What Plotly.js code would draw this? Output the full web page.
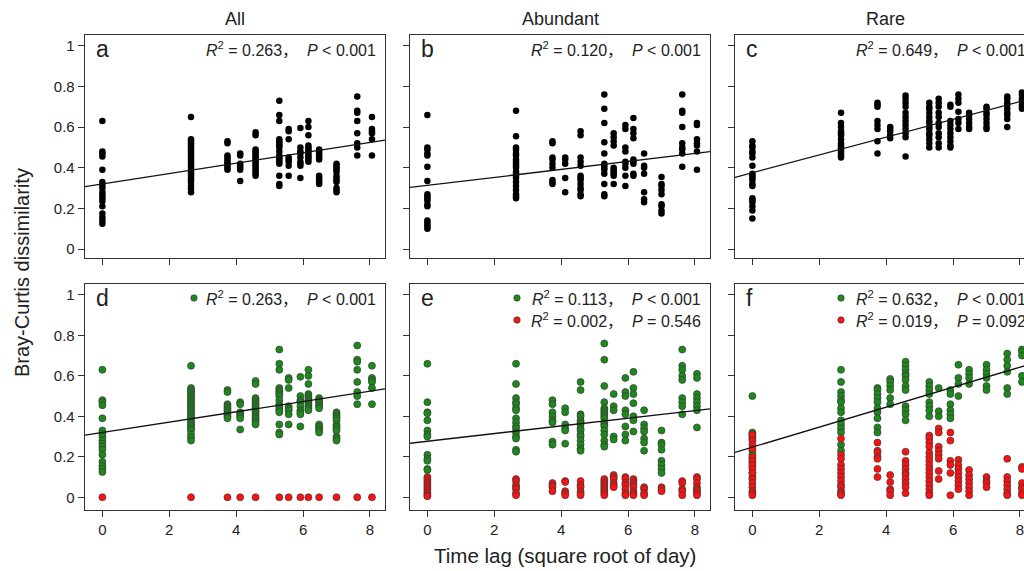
<!DOCTYPE html>
<html>
<head>
<meta charset="utf-8">
<script src="https://cdn.plot.ly/plotly-3.0.1.min.js"></script>
<style>
html, body { margin: 0; padding: 0; overflow: hidden; background: #fff; }
#chart { width: 1040px; height: 571px; }
</style>
</head>
<body>
<div id="chart"></div>
<script>
// ---- DATA ----
const lags = [0, 2.65, 3.74, 4.12, 4.58, 5.29, 5.57, 5.92, 6.16, 6.48, 7.0, 7.62, 8.06];
const xTicks = [0, 2, 4, 6, 8];
const yTicks = [0, 0.2, 0.4, 0.6, 0.8, 1];
const yTickText = ["0", "0.2", "0.4", "0.6", "0.8", "1"];
const panelTitles = ["All", "Abundant", "Rare"];
const panelLetters = ["a", "b", "c", "d", "e", "f"];

// Panel a (All) – also the green series of panel d
const allCols = [
  [0.63, 0.48, 0.47, 0.455, 0.39, 0.33, 0.315, 0.30, 0.28, 0.265, 0.25, 0.235, 0.21, 0.175, 0.155, 0.14, 0.125],
  [0.65, 0.54, 0.53, 0.52, 0.51, 0.50, 0.49, 0.48, 0.47, 0.46, 0.45, 0.44, 0.43, 0.42, 0.41, 0.40, 0.39, 0.38, 0.37, 0.36, 0.35, 0.34, 0.33, 0.31, 0.295, 0.28],
  [0.53, 0.52, 0.46, 0.45, 0.44, 0.43, 0.42, 0.41, 0.40, 0.39],
  [0.47, 0.46, 0.42, 0.41, 0.40, 0.39, 0.335],
  [0.575, 0.56, 0.49, 0.48, 0.47, 0.46, 0.45, 0.44, 0.43, 0.42, 0.41, 0.40, 0.39, 0.38, 0.37, 0.36],
  [0.73, 0.66, 0.63, 0.54, 0.53, 0.52, 0.51, 0.50, 0.48, 0.46, 0.45, 0.44, 0.43, 0.42, 0.36, 0.32, 0.31],
  [0.59, 0.58, 0.54, 0.45, 0.44, 0.43, 0.41, 0.36],
  [0.595, 0.50, 0.48, 0.47, 0.45, 0.43, 0.42, 0.41, 0.35],
  [0.63, 0.60, 0.56, 0.51, 0.50, 0.49, 0.48, 0.47, 0.46, 0.45, 0.44, 0.43],
  [0.49, 0.48, 0.47, 0.46, 0.45, 0.44, 0.36, 0.35, 0.34, 0.33, 0.32],
  [0.42, 0.41, 0.40, 0.39, 0.38, 0.36, 0.35, 0.34, 0.33, 0.30, 0.29, 0.28],
  [0.75, 0.68, 0.67, 0.63, 0.57, 0.52, 0.50, 0.46],
  [0.65, 0.59, 0.58, 0.57, 0.54, 0.46]
];
// Panel b (Abundant)
const abundantCols = [
  [0.66, 0.50, 0.49, 0.47, 0.46, 0.405, 0.335, 0.27, 0.26, 0.25, 0.24, 0.22, 0.21, 0.14, 0.13, 0.12, 0.11, 0.10],
  [0.68, 0.555, 0.50, 0.49, 0.47, 0.46, 0.44, 0.43, 0.42, 0.41, 0.40, 0.38, 0.37, 0.36, 0.35, 0.33, 0.31, 0.29, 0.27, 0.26, 0.25],
  [0.53, 0.52, 0.45, 0.44, 0.42, 0.40, 0.34, 0.33, 0.32],
  [0.45, 0.44, 0.42, 0.35, 0.28],
  [0.58, 0.56, 0.45, 0.43, 0.41, 0.36, 0.35, 0.34, 0.32, 0.30, 0.29, 0.27, 0.26],
  [0.76, 0.69, 0.62, 0.525, 0.47, 0.42, 0.41, 0.40, 0.39, 0.37, 0.32, 0.27, 0.26],
  [0.57, 0.55, 0.53, 0.51, 0.40, 0.39, 0.38, 0.37, 0.36, 0.32],
  [0.61, 0.59, 0.50, 0.48, 0.43, 0.42, 0.40, 0.36, 0.31],
  [0.645, 0.59, 0.57, 0.545, 0.44, 0.43, 0.42, 0.37, 0.36],
  [0.47, 0.41, 0.40, 0.37, 0.28, 0.245, 0.23],
  [0.355, 0.32, 0.31, 0.29, 0.27, 0.22, 0.21, 0.19, 0.175],
  [0.76, 0.68, 0.67, 0.60, 0.52, 0.50, 0.49, 0.47, 0.405],
  [0.62, 0.61, 0.54, 0.52, 0.51, 0.48, 0.39]
];
// Panel c (Rare)
const rareCols = [
  [0.53, 0.51, 0.50, 0.48, 0.47, 0.45, 0.41, 0.37, 0.36, 0.35, 0.34, 0.32, 0.31, 0.25, 0.24, 0.23, 0.21, 0.19, 0.15],
  [0.67, 0.62, 0.60, 0.58, 0.57, 0.56, 0.54, 0.52, 0.51, 0.50, 0.49, 0.48, 0.47, 0.46, 0.45],
  [0.72, 0.71, 0.70, 0.63, 0.61, 0.59, 0.53, 0.47],
  [0.60, 0.59, 0.58, 0.56, 0.545],
  [0.755, 0.74, 0.72, 0.70, 0.67, 0.65, 0.63, 0.61, 0.59, 0.57, 0.55, 0.455],
  [0.72, 0.70, 0.69, 0.67, 0.65, 0.63, 0.62, 0.60, 0.59, 0.57, 0.56, 0.54, 0.52, 0.50],
  [0.74, 0.72, 0.70, 0.67, 0.65, 0.62, 0.60, 0.57, 0.55, 0.52, 0.50],
  [0.71, 0.70, 0.63, 0.61, 0.59, 0.57, 0.55, 0.53, 0.51, 0.50],
  [0.76, 0.74, 0.72, 0.675, 0.64, 0.62, 0.59],
  [0.67, 0.66, 0.64, 0.62, 0.60, 0.59],
  [0.70, 0.69, 0.67, 0.66, 0.64, 0.62, 0.60, 0.59],
  [0.75, 0.74, 0.72, 0.71, 0.69, 0.67, 0.66, 0.64, 0.60],
  [0.77, 0.76, 0.74, 0.73, 0.71, 0.70, 0.69]
];
// Panel d red (one point per lag)
const dRedCols = [[0], [0], [0], [0], [0], [0], [0], [0], [0], [0], [0], [0], [0]];
// Panel e
const eGreenCols = [
  [0.66, 0.47, 0.42, 0.415, 0.38, 0.33, 0.31, 0.30, 0.21, 0.19, 0.18, 0.14, 0.135],
  [0.66, 0.56, 0.49, 0.47, 0.46, 0.44, 0.43, 0.39, 0.37, 0.35, 0.34, 0.32, 0.30, 0.29, 0.235, 0.225],
  [0.48, 0.46, 0.42, 0.40, 0.38, 0.37, 0.275, 0.26],
  [0.44, 0.42, 0.36, 0.34, 0.33, 0.265],
  [0.57, 0.53, 0.41, 0.40, 0.38, 0.37, 0.36, 0.34, 0.33, 0.31, 0.30, 0.28, 0.26, 0.24, 0.23],
  [0.76, 0.68, 0.55, 0.47, 0.44, 0.43, 0.42, 0.41, 0.40, 0.39, 0.37, 0.36, 0.35, 0.33, 0.31, 0.28, 0.26, 0.25],
  [0.51, 0.45, 0.43, 0.30, 0.285],
  [0.59, 0.52, 0.50, 0.43, 0.41, 0.35, 0.31, 0.28],
  [0.62, 0.54, 0.51, 0.465, 0.40, 0.38, 0.325],
  [0.43, 0.36, 0.34, 0.325, 0.29, 0.27, 0.23],
  [0.33, 0.27, 0.26, 0.235, 0.18, 0.16, 0.14, 0.12],
  [0.73, 0.65, 0.63, 0.60, 0.58, 0.49, 0.47, 0.45, 0.41],
  [0.61, 0.59, 0.51, 0.49, 0.47, 0.45, 0.43, 0.345]
];
const eRedCols = [
  [0.10, 0.09, 0.08, 0.07, 0.06, 0.05, 0.04, 0.03, 0.02, 0.01, 0.005],
  [0.09, 0.08, 0.06, 0.05, 0.04, 0.02, 0.01],
  [0.07, 0.06, 0.05, 0.03],
  [0.08, 0.075, 0.03, 0.02, 0.01],
  [0.08, 0.06, 0.05, 0.03, 0.02, 0.01],
  [0.09, 0.08, 0.07, 0.06, 0.05, 0.04, 0.03, 0.02, 0.01],
  [0.11, 0.10, 0.09, 0.07, 0.06, 0.05],
  [0.10, 0.09, 0.07, 0.06, 0.04, 0.02, 0.01],
  [0.09, 0.08, 0.07, 0.06, 0.05, 0.03, 0.02, 0.01],
  [0.05, 0.04, 0.02, 0.01],
  [0.05, 0.04, 0.03],
  [0.08, 0.07, 0.04, 0.03, 0.01],
  [0.10, 0.09, 0.07, 0.05, 0.04, 0.03, 0.02, 0.01]
];
// Panel f
const fGreenCols = [
  [0.50, 0.32, 0.31, 0.30, 0.29, 0.23, 0.21, 0.19, 0.17, 0.15, 0.12, 0.10],
  [0.63, 0.57, 0.52, 0.50, 0.48, 0.47, 0.44, 0.42, 0.38, 0.36, 0.34, 0.32, 0.26, 0.23],
  [0.54, 0.53, 0.51, 0.49, 0.47, 0.44, 0.42, 0.39, 0.345, 0.32],
  [0.585, 0.57, 0.55, 0.53, 0.49, 0.46],
  [0.67, 0.65, 0.63, 0.61, 0.60, 0.58, 0.55, 0.53, 0.45, 0.43, 0.41, 0.38],
  [0.57, 0.55, 0.53, 0.51, 0.47, 0.45, 0.43, 0.40],
  [0.54, 0.425, 0.40],
  [0.53, 0.51, 0.46, 0.43, 0.41, 0.39],
  [0.655, 0.59, 0.56, 0.50],
  [0.63, 0.61, 0.59, 0.56],
  [0.655, 0.63, 0.61, 0.59, 0.55, 0.53],
  [0.71, 0.68, 0.65, 0.62, 0.54, 0.51],
  [0.73, 0.72, 0.70, 0.60, 0.57]
];
const fRedCols = [
  [0.31, 0.28, 0.26, 0.24, 0.20, 0.18, 0.16, 0.14, 0.12, 0.09, 0.07, 0.05, 0.03, 0.02, 0.01],
  [0.29, 0.21, 0.19, 0.16, 0.14, 0.12, 0.10, 0.08, 0.06, 0.05, 0.03, 0.02, 0.01],
  [0.27, 0.23, 0.22, 0.20, 0.19, 0.14, 0.10],
  [0.11, 0.075, 0.04, 0.03, 0.01],
  [0.225, 0.18, 0.16, 0.14, 0.12, 0.11, 0.09, 0.07, 0.05, 0.02],
  [0.305, 0.29, 0.27, 0.25, 0.22, 0.20, 0.18, 0.16, 0.14, 0.12, 0.10, 0.08, 0.06, 0.04, 0.02, 0.01],
  [0.34, 0.32, 0.25, 0.23, 0.21, 0.19, 0.13, 0.09],
  [0.32, 0.28, 0.18, 0.16, 0.12, 0.01],
  [0.185, 0.16, 0.14, 0.12, 0.10, 0.08, 0.06, 0.04],
  [0.135, 0.11, 0.09, 0.07, 0.05, 0.03, 0.01],
  [0.10, 0.08, 0.07, 0.05],
  [0.19, 0.10, 0.08, 0.06, 0.04, 0.02, 0.01],
  [0.15, 0.14, 0.07, 0.05, 0.04, 0.02, 0.01]
];
// Fitted regression lines (endpoints across panel width)
const fitX = [-0.52, 8.45];
const fitA = [0.307, 0.536];
const fitB = [0.303, 0.479];
const fitC = [0.353, 0.745];
const fitD = [0.307, 0.536];
const fitE = [0.267, 0.437];
const fitF = [0.222, 0.665];
// Statistics text
const statsA = ["0.263", "< 0.001"];
const statsB = ["0.120", "< 0.001"];
const statsC = ["0.649", "< 0.001"];
const statsDGreen = ["0.263", "< 0.001"];
const statsEGreen = ["0.113", "< 0.001"];
const statsERed = ["0.002", "= 0.546"];
const statsFGreen = ["0.632", "< 0.001"];
const statsFRed = ["0.019", "= 0.092"];

// ---- BUILD ----
const W = 1040, H = 571;
const px = v => v / W;
const py = v => 1 - v / H;
const GREEN = '#1b8a1b', RED = '#ff1010';
const FONT = 'Liberation Sans, Arial, Helvetica, "Noto Sans CJK SC", sans-serif';

function flatten(cols) {
  const x = [], y = [];
  cols.forEach((c, i) => c.forEach(v => { x.push(lags[i]); y.push(v); }));
  return {x, y};
}
function pts(cols, color, xa, ya, outlined) {
  const d = flatten(cols);
  return {
    type: 'scatter', mode: 'markers', x: d.x, y: d.y, xaxis: xa, yaxis: ya,
    marker: outlined
      ? {color: color, size: 7, line: {color: '#3a3a3a', width: 0.7}}
      : {color: color, size: 6.5, line: {width: 0}},
    hoverinfo: 'skip', showlegend: false, cliponaxis: true
  };
}
function fit(yv, xa, ya) {
  return {type: 'scatter', mode: 'lines', x: fitX, y: yv, xaxis: xa, yaxis: ya,
    line: {color: '#111', width: 1.3}, hoverinfo: 'skip', showlegend: false};
}

const traces = [
  pts(allCols, '#000', 'x', 'y', false), fit(fitA, 'x', 'y'),
  pts(abundantCols, '#000', 'x2', 'y2', false), fit(fitB, 'x2', 'y2'),
  pts(rareCols, '#000', 'x3', 'y3', false), fit(fitC, 'x3', 'y3'),
  pts(allCols, GREEN, 'x4', 'y4', true), pts(dRedCols, RED, 'x4', 'y4', true), fit(fitD, 'x4', 'y4'),
  pts(eGreenCols, GREEN, 'x5', 'y5', true), pts(eRedCols, RED, 'x5', 'y5', true), fit(fitE, 'x5', 'y5'),
  pts(fGreenCols, GREEN, 'x6', 'y6', true), pts(fRedCols, RED, 'x6', 'y6', true), fit(fitF, 'x6', 'y6')
];

const colL = [85, 410, 735];
const colR = [385, 710, 1035];
const rowTop = [35, 284];
const rowBot = [258, 510];
const yRanges = [[-0.044, 1.053], [-0.063, 1.054]];

function xaxis(col, row) {
  return {
    domain: [px(colL[col]), px(colR[col])], range: [-0.52, 8.45],
    anchor: 'y' + (row * 3 + col + 1 === 1 ? '' : row * 3 + col + 1),
    tickvals: xTicks, ticktext: xTicks.map(String), showticklabels: row === 1,
    ticks: 'outside', ticklen: 6, tickwidth: 1, tickcolor: '#333',
    showline: true, mirror: true, linecolor: '#333', linewidth: 1.3,
    showgrid: false, zeroline: false,
    tickfont: {family: FONT, size: 15, color: '#222'}
  };
}
function yaxis(col, row) {
  return {
    domain: [py(rowBot[row]), py(rowTop[row])], range: yRanges[row],
    anchor: 'x' + (row * 3 + col + 1 === 1 ? '' : row * 3 + col + 1),
    tickvals: yTicks, ticktext: yTickText, showticklabels: col === 0,
    ticks: 'outside', ticklen: 6, tickwidth: 1, tickcolor: '#333',
    showline: true, mirror: true, linecolor: '#333', linewidth: 1.3,
    showgrid: false, zeroline: false,
    tickfont: {family: FONT, size: 15, color: '#222'}
  };
}

const layout = {
  width: W, height: H,
  margin: {l: 0, r: 0, t: 0, b: 0, pad: 0},
  paper_bgcolor: '#fff', plot_bgcolor: '#fff',
  font: {family: FONT, color: '#222'},
  showlegend: false,
  annotations: [], shapes: []
};
let k = 0;
for (let row = 0; row < 2; row++) {
  for (let col = 0; col < 3; col++) {
    k++;
    const s = k === 1 ? '' : String(k);
    layout['xaxis' + s] = xaxis(col, row);
    layout['yaxis' + s] = yaxis(col, row);
  }
}

const A = layout.annotations;
// column titles
panelTitles.forEach((t, i) => A.push({text: t, xref: 'paper', yref: 'paper',
  x: px((colL[i] + colR[i]) / 2), y: py(19), xanchor: 'center', yanchor: 'middle',
  showarrow: false, font: {family: FONT, size: 18, color: '#222'}}));
// axis titles
A.push({text: 'Bray-Curtis dissimilarity', xref: 'paper', yref: 'paper', x: px(22), y: py(273),
  xanchor: 'center', yanchor: 'middle', textangle: -90, showarrow: false,
  font: {family: FONT, size: 20, color: '#222'}});
A.push({text: 'Time lag (square root of day)', xref: 'paper', yref: 'paper', x: px(565), y: py(555),
  xanchor: 'center', yanchor: 'middle', showarrow: false,
  font: {family: FONT, size: 20.5, color: '#222'}});
// panel letters
panelLetters.forEach((t, i) => {
  const col = i % 3, row = Math.floor(i / 3);
  A.push({text: t, xref: 'paper', yref: 'paper', x: px(colL[col] + 9), y: py(rowTop[row] + 14),
    xanchor: 'left', yanchor: 'middle', showarrow: false,
    font: {family: FONT, size: 23, color: '#222'}});
});
// stats
function stat(s, col, row, line) {
  A.push({text: '<i>R</i><sup>2</sup> = ' + s[0] + '，  <i>P</i> ' + s[1].replace('<', '&lt;'),
    xref: 'paper', yref: 'paper', x: px(colR[col] - 7), y: py(rowTop[row] + 14 + line * 22),
    xanchor: 'right', yanchor: 'middle', showarrow: false,
    font: {family: FONT, size: 16, color: '#222'}});
}
function dot(color, xPix, yPix) {
  layout.shapes.push({type: 'circle', xref: 'paper', yref: 'paper',
    xsizemode: 'pixel', ysizemode: 'pixel', xanchor: px(xPix), yanchor: py(yPix),
    x0: -3.2, x1: 3.2, y0: -3.2, y1: 3.2, fillcolor: color, line: {color: '#3a3a3a', width: 0.7}});
}
stat(statsA, 0, 0, 0);
stat(statsB, 1, 0, 0);
stat(statsC, 2, 0, 0);
stat(statsDGreen, 0, 1, 0);
stat(statsEGreen, 1, 1, 0);
stat(statsERed, 1, 1, 1);
stat(statsFGreen, 2, 1, 0);
stat(statsFRed, 2, 1, 1);
dot(GREEN, 194, 298);
dot(GREEN, 517, 298);
dot(RED, 517, 320);
dot(GREEN, 841, 298);
dot(RED, 841, 320);

Plotly.newPlot('chart', traces, layout, {displayModeBar: false, staticPlot: true});
</script>
</body>
</html>
